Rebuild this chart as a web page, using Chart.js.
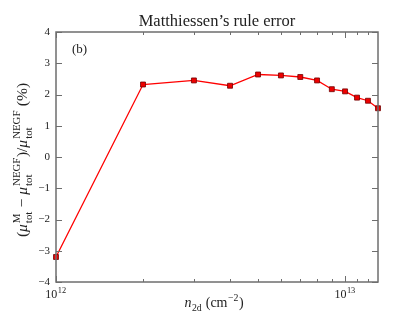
<!DOCTYPE html>
<html>
    <head>
        <title>Matthiessen's rule error</title>
        <script src="https://cdn.jsdelivr.net/npm/chart.js@4.4.1/dist/chart.umd.min.js"></script>
        <style>
            body { margin: 0; background: #fff; }
            #wrap { width: 415px; height: 312px; }
        </style>
    </head>
    <body>
        <div id="wrap"><canvas id="myChart" width="415" height="312"></canvas></div>

        <script>
            // carrier density n_2d (cm^-2) and error (%)
            const density = [1e12, 2e12, 3e12, 4e12, 5e12, 6e12, 7e12, 8e12, 9e12, 1e13, 1.1e13, 1.2e13, 1.3e13];
            const errorPct = [-3.2, 2.32, 2.45, 2.28, 2.64, 2.61, 2.56, 2.45, 2.17, 2.1, 1.9, 1.8, 1.56];
            const yTicks = [-4, -3, -2, -1, 0, 1, 2, 3, 4];
            const xMajorTicks = [1e12, 1e13];
            const xMinorTicks = [2e12, 3e12, 4e12, 5e12, 6e12, 7e12, 8e12, 9e12, 1.1e13, 1.2e13];
            const xTickExp = ['12', '13'];

            const serif = '"Liberation Serif", "DejaVu Serif", serif';
            const frameColor = '#6e6e6e';

            // text with sub/superscripts, parts = [[text, 'n'|'sub'|'sup'|'subsup', extra]]
            function richWidth(ctx, parts, size) {
                let w = 0;
                for (const p of parts) {
                    if (p[1] === 'n') { ctx.font = (p[2] || '') + size + 'px ' + serif; w += ctx.measureText(p[0]).width; }
                    else if (p[1] === 'subsup') {
                        ctx.font = (size * 0.7) + 'px ' + serif;
                        w += Math.max(ctx.measureText(p[0]).width, ctx.measureText(p[2]).width) + 1.5;
                    } else { ctx.font = (size * 0.7) + 'px ' + serif; w += ctx.measureText(p[0]).width + 1; }
                }
                return w;
            }
            function richDraw(ctx, parts, size, x, y) {
                for (const p of parts) {
                    if (p[1] === 'n') {
                        ctx.font = (p[2] || '') + size + 'px ' + serif;
                        ctx.fillText(p[0], x, y); x += ctx.measureText(p[0]).width;
                    } else if (p[1] === 'sup') {
                        ctx.font = (size * 0.7) + 'px ' + serif;
                        ctx.fillText(p[0], x + 0.5, y - size * 0.42); x += ctx.measureText(p[0]).width + 1;
                    } else if (p[1] === 'sub') {
                        ctx.font = (size * 0.7) + 'px ' + serif;
                        ctx.fillText(p[0], x + 0.5, y + size * 0.25); x += ctx.measureText(p[0]).width + 1;
                    } else {
                        ctx.font = (size * 0.7) + 'px ' + serif;
                        ctx.fillText(p[2], x + 1, y - size * 0.45);
                        ctx.fillText(p[0], x + 1, y + size * 0.3);
                        x += Math.max(ctx.measureText(p[0]).width, ctx.measureText(p[2]).width) + 1.5;
                    }
                }
            }

            const decorations = {
                id: 'decorations',
                afterDraw(chart) {
                    const ctx = chart.ctx;
                    const a = chart.chartArea;
                    const xs = chart.scales.x, ys = chart.scales.y;
                    ctx.save();
                    // frame
                    ctx.strokeStyle = frameColor;
                    ctx.lineWidth = 1.5;
                    ctx.strokeRect(a.left, a.top, a.right - a.left, a.bottom - a.top);
                    // inward ticks
                    ctx.lineWidth = 1;
                    ctx.beginPath();
                    for (const v of yTicks) {
                        const py = Math.round(ys.getPixelForValue(v)) + 0.5;
                        ctx.moveTo(a.left, py); ctx.lineTo(a.left + 6, py);
                        ctx.moveTo(a.right, py); ctx.lineTo(a.right - 6, py);
                    }
                    for (const v of xMajorTicks) {
                        const px = Math.round(xs.getPixelForValue(v)) + 0.5;
                        ctx.moveTo(px, a.bottom); ctx.lineTo(px, a.bottom - 6);
                        ctx.moveTo(px, a.top); ctx.lineTo(px, a.top + 6);
                    }
                    for (const v of xMinorTicks) {
                        const px = Math.round(xs.getPixelForValue(v)) + 0.5;
                        ctx.moveTo(px, a.bottom); ctx.lineTo(px, a.bottom - 3);
                        ctx.moveTo(px, a.top); ctx.lineTo(px, a.top + 3);
                    }
                    ctx.stroke();

                    ctx.fillStyle = '#222';
                    ctx.textBaseline = 'alphabetic';
                    ctx.textAlign = 'left';
                    // x tick labels 10^n
                    xMajorTicks.forEach((v, i) => {
                        const parts = [['10', 'n'], [xTickExp[i], 'sup']];
                        const w = richWidth(ctx, parts, 12);
                        richDraw(ctx, parts, 12, xs.getPixelForValue(v) - w / 2, a.bottom + 16);
                    });
                    // title
                    ctx.font = '16.5px ' + serif;
                    const title = 'Matthiessen\u2019s rule error';
                    const tw = ctx.measureText(title).width;
                    ctx.fillText(title, (a.left + a.right) / 2 - tw / 2, 26);
                    // panel label
                    ctx.font = '13px ' + serif;
                    ctx.fillText('(b)', a.left + 16, a.top + 21);

                    // x axis title
                    const xParts = [['n', 'n', 'italic '], ['2d', 'sub'], [' (cm', 'n'], ['\u22122', 'sup'], [')', 'n']];
                    const xw = richWidth(ctx, xParts, 14);
                    richDraw(ctx, xParts, 14, 214 - xw / 2, 307);

                    // y axis title, rotated
                    const yParts = [['(', 'n'], ['\u03bc', 'n', 'italic '], ['tot', 'subsup', 'M'], [' \u2212 ', 'n'],
                        ['\u03bc', 'n', 'italic '], ['tot', 'subsup', 'NEGF'], [')/', 'n'],
                        ['\u03bc', 'n', 'italic '], ['tot', 'subsup', 'NEGF'], [' (%)', 'n']];
                    const yw = richWidth(ctx, yParts, 15.5);
                    ctx.translate(27, (a.top + a.bottom) / 2 + 3);
                    ctx.rotate(-Math.PI / 2);
                    richDraw(ctx, yParts, 15.5, -yw / 2, 0);
                    ctx.restore();
                }
            };

            const ctx = document.getElementById('myChart');
            const myChart = new Chart(ctx, {
                type: 'line',
                data: {
                    datasets: [{
                        data: density.map((d, i) => ({ x: d, y: errorPct[i] })),
                        borderColor: '#ff0000',
                        borderWidth: 1.3,
                        backgroundColor: '#ee0000',
                        pointStyle: 'rect',
                        pointRadius: 3.5,
                        pointBorderColor: '#700000',
                        pointBorderWidth: 0.8,
                        tension: 0,
                        clip: false
                    }]
                },
                plugins: [decorations],
                options: {
                    responsive: false,
                    animation: false,
                    events: [],
                    layout: { padding: { top: 32, right: 37, left: 0, bottom: 0 } },
                    plugins: { legend: { display: false }, tooltip: { enabled: false } },
                    scales: {
                        x: {
                            type: 'logarithmic',
                            min: 1e12,
                            max: 1.3e13,
                            afterBuildTicks: (scale) => { scale.ticks = xMajorTicks.map(v => ({ value: v })); },
                            afterFit: (scale) => { scale.height = 30; },
                            grid: { display: false },
                            border: { display: false },
                            ticks: { display: false }
                        },
                        y: {
                            min: -4,
                            max: 4,
                            afterBuildTicks: (scale) => { scale.ticks = yTicks.map(v => ({ value: v })); },
                            afterFit: (scale) => { scale.width = 56; },
                            grid: { display: false, tickLength: 0 },
                            border: { display: false },
                            ticks: {
                                padding: 6,
                                color: '#222',
                                font: { family: serif, size: 11 },
                                callback: (v) => (v < 0 ? '\u2212' + Math.abs(v) : '' + v)
                            }
                        }
                    }
                }
            });
        </script>
    </body>
</html>
